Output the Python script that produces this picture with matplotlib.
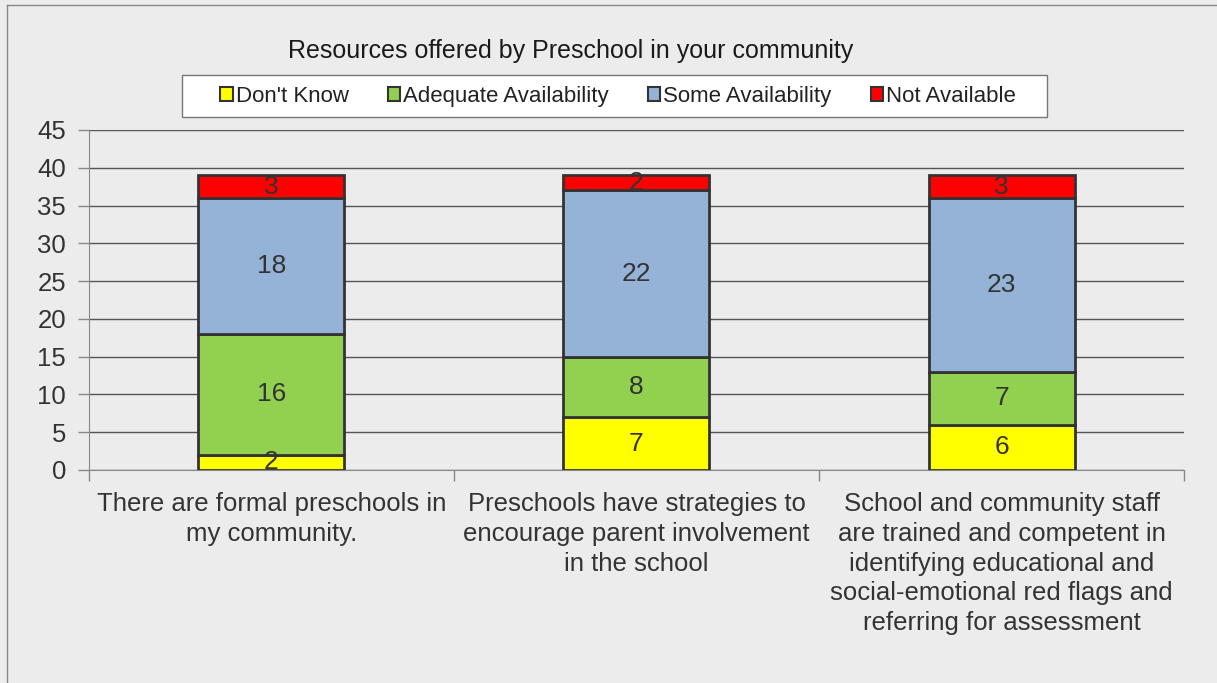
import matplotlib.pyplot as plt
from matplotlib.lines import Line2D
from matplotlib.patches import Rectangle
import numpy as np

categories = ["There are formal preschools in\nmy community.",
              "Preschools have strategies to\nencourage parent involvement\nin the school",
              "School and community staff\nare trained and competent in\nidentifying educational and\nsocial-emotional red flags and\nreferring for assessment"]
series_names = ["Don't Know", "Adequate Availability", "Some Availability", "Not Available"]
dont_know = [2, 7, 6]
adequate = [16, 8, 7]
some = [18, 22, 23]
not_avail = [3, 2, 3]
colors = ["#ffff00", "#92d050", "#95b3d7", "#ff0000"]

bg = "#ececec"
fig = plt.figure(figsize=(12.17, 6.83), dpi=100, facecolor=bg)
ax = fig.add_axes([0.0731, 0.3119, 0.8998, 0.4978])
ax.set_facecolor(bg)

x = np.arange(len(categories))
bottom = np.zeros(len(categories))
for name, vals, c in zip(series_names, [dont_know, adequate, some, not_avail], colors):
    vals = np.array(vals, dtype=float)
    ax.bar(x, vals, 0.40, bottom=bottom, color=c, edgecolor="#333333",
           linewidth=2, label=name, zorder=3)
    for xi, b, v in zip(x, bottom, vals):
        ax.text(xi, b + v / 2, "%d" % v, ha="center", va="center",
                fontsize=19, color="#333333", family="Liberation Sans", zorder=4)
    bottom += vals

ax.set_xlim(-0.5, 2.5)
ax.set_ylim(0, 45)
ax.set_yticks(range(0, 46, 5))
ax.yaxis.grid(True, color="#555555", linewidth=1, zorder=0)
ax.tick_params(axis="y", labelsize=18.5, colors="#333333", length=8, width=1,
               color="#888888", pad=8.5)
for lab in ax.get_yticklabels():
    lab.set_family("Liberation Sans")
ax.set_xticks(x)
ax.set_xticklabels(categories, fontsize=18.5, color="#333333", family="Liberation Sans",
                   linespacing=1.3)
ax.tick_params(axis="x", length=0, pad=16)
# category separator ticks
ax.set_xticks([-0.5, 0.5, 1.5, 2.5], minor=True)
ax.tick_params(axis="x", which="minor", length=8, color="#888888", width=1)
for s in ["top", "right"]:
    ax.spines[s].set_visible(False)
ax.spines["left"].set_color("#888888")
ax.spines["bottom"].set_color("#888888")

fig.text(0.469, 0.925, "Resources offered by Preschool in your community",
         ha="center", va="center", fontsize=18, color="#1a1a1a",
         family="Liberation Sans")

# legend box
fig.add_artist(Rectangle((182 / 1217, 1 - 117 / 683), 865 / 1217, 42 / 683,
                         transform=fig.transFigure, facecolor="white",
                         edgecolor="#777777", lw=1, zorder=1))
leg = fig.legend(loc="center", bbox_to_anchor=(0.508, 0.859), ncol=4, frameon=False,
                 handlelength=0.55, handleheight=0.55, handletextpad=0.15,
                 columnspacing=1.75, borderpad=0.3,
                 prop={"family": "Liberation Sans", "size": 16})
leg.set_zorder(2)
for h in leg.legend_handles:
    h.set_linewidth(1.5)
for t in leg.get_texts():
    t.set_color("#222222")

fig.add_artist(Line2D([7 / 1217, 7 / 1217], [0, 1 - 5 / 683], color="#888888", lw=1))
fig.add_artist(Line2D([7 / 1217, 1], [1 - 5 / 683, 1 - 5 / 683], color="#888888", lw=1))

fig.savefig("out.png", dpi=100, facecolor=bg)
